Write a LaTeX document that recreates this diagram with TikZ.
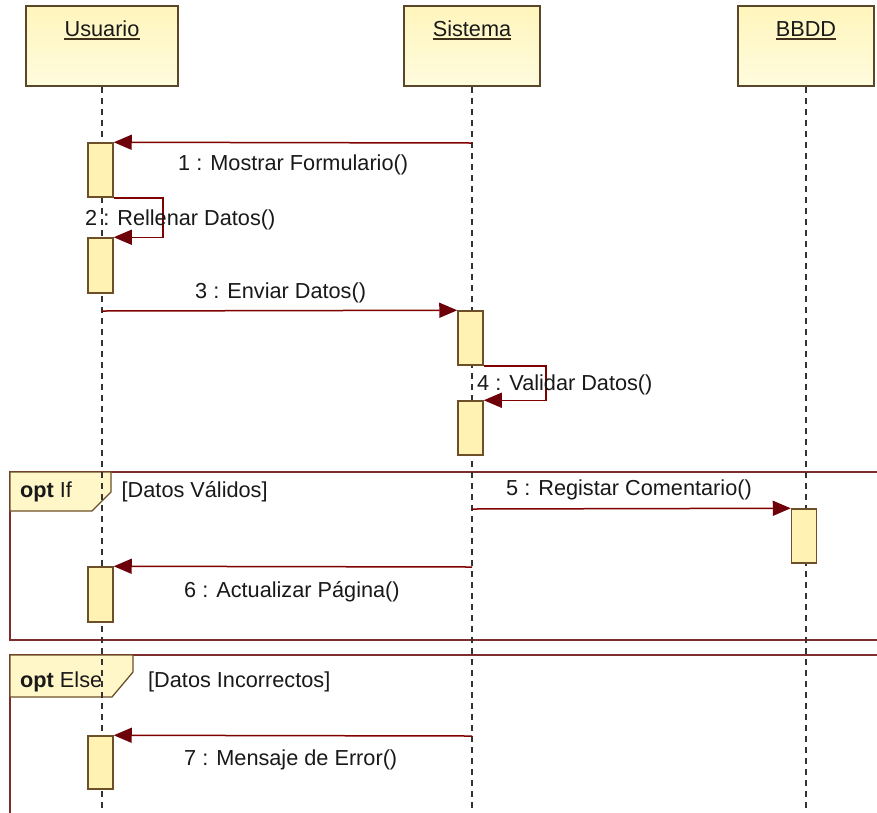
\documentclass[tikz,border=0pt]{standalone}
\usepackage{fontspec}
\setmainfont{Liberation Sans}
\usetikzlibrary{arrows.meta, positioning}
\definecolor{msgred}{RGB}{128,0,0}
\definecolor{tipred}{RGB}{110,0,10}
\definecolor{framered}{RGB}{125,45,45}
\definecolor{headbrown}{RGB}{90,70,40}
\definecolor{actbrown}{RGB}{110,80,40}
\definecolor{headtop}{RGB}{255,245,188}
\definecolor{headbot}{RGB}{255,252,222}
\definecolor{actfill}{RGB}{255,242,178}
\definecolor{tagfill}{RGB}{255,247,200}
\definecolor{txt}{RGB}{25,25,25}

\begin{document}
\begin{tikzpicture}[x=1pt, y=-1pt,
  font=\fontsize{21.7}{26}\selectfont, text=txt,
  head/.style={draw=headbrown, line width=2.2pt, top color=headtop, bottom color=headbot, minimum height=80pt, inner sep=0pt},
  title/.style={inner sep=0pt},
  uline/.style={headbrown!70!black, line width=1.6pt},
  life/.style={black!80, line width=1.5pt, dash pattern=on 6pt off 5pt},
  act/.style={draw=actbrown, line width=1.5pt, fill=actfill, minimum width=25pt, inner sep=0pt},
  msg/.style={msgred, line width=1.5pt, -{Triangle[length=18pt, width=15pt, color=tipred]}},
  lbl/.style={anchor=west, inner sep=0pt},
  sdframe/.style={draw=framered, line width=1.3pt},
  optag/.style={draw=actbrown, line width=1.3pt, fill=tagfill}]
\useasboundingbox (0,0) rectangle (877,812);
\clip (0,0) rectangle (877,812);
\fill[white] (0,0) rectangle (877,812);
\draw[sdframe] (10,472) rectangle (890,640);
\draw[sdframe] (10,830) -- (10,655) -- (890,655);
\draw[optag] (10,472) -- (111,472) -- (111,492) -- (92,511) -- (10,511) -- cycle;
\draw[optag] (10,655) -- (133,655) -- (133,672) -- (112,697) -- (10,697) -- cycle;
\node[head, minimum width=152pt] (usr) at (102,46) {};
\node[head, minimum width=136pt] (sys) at (472,46) {};
\node[head, minimum width=136pt] (bd) at (806,46) {};
\node[title] (usrt) at (102,29) {Usuario};
\node[title] (syst) at (472,29) {Sistema};
\node[title] (bdt) at (806,29) {BBDD};
\draw[uline] ([yshift=-2.5pt]usrt.base west) -- ([yshift=-2.5pt]usrt.base east);
\draw[uline] ([yshift=-2.5pt]syst.base west) -- ([yshift=-2.5pt]syst.base east);
\draw[uline] ([yshift=-2.5pt]bdt.base west) -- ([yshift=-2.5pt]bdt.base east);
\coordinate (usrend) at (102,812);
\coordinate (sysend) at (472,812);
\coordinate (bdend) at (806,812);
\draw[life] (usr.south) -- (usrend);
\draw[life] (sys.south) -- (sysend);
\draw[life] (bd.south) -- (bdend);
\node[act, minimum height=54pt] (a1) at (100.5,170) {};
\node[act, minimum height=55pt] (a2) at (100.5,265.5) {};
\node[act, minimum height=54pt] (a3) at (470.5,338) {};
\node[act, minimum height=54pt] (a4) at (470.5,428) {};
\node[act, minimum height=54pt] (a5) at (804,536) {};
\node[act, minimum height=55pt] (a6) at (100.5,594.5) {};
\node[act, minimum height=53pt] (a7) at (100.5,762.5) {};
\coordinate (m1s) at (472,143);
\coordinate (m3s) at (102,311);
\coordinate (m5s) at (472,509);
\coordinate (m6s) at (472,567);
\coordinate (m7s) at (472,736);
\draw[msg] (m1s) -- (a1.north east);
\draw[msg] (a1.south east) -- ++(49,0) |- (a2.north east);
\draw[msg] (m3s) -- (a3.north west);
\draw[msg] (a3.south east) -- ++(62,0) |- (a4.north east);
\draw[msg] (m5s) -- (a5.north west);
\draw[msg] (m6s) -- (a6.north east);
\draw[msg] (m7s) -- (a7.north east);
\node[lbl] (l1) at (178,165) {1 : Mostrar Formulario()};
\node[lbl] (l2) at (85,220) {2 : Rellenar Datos()};
\node[lbl] (l3) at (195,293) {3 : Enviar Datos()};
\node[lbl] (l4) at (477,385) {4 : Validar Datos()};
\node[lbl] (l5) at (506,490) {5 : Registar Comentario()};
\node[lbl] (l6) at (184,592) {6 : Actualizar Página()};
\node[lbl] (l7) at (184,760) {7 : Mensaje de Error()};
\node[lbl] (opt1) at (20,492) {\textbf{opt} If};
\node[lbl] (g1) at (121.5,492) {[Datos Válidos]};
\node[lbl] (opt2) at (20,682) {\textbf{opt} Else};
\node[lbl] (g2) at (148,682) {[Datos Incorrectos]};
\end{tikzpicture}
\end{document}
